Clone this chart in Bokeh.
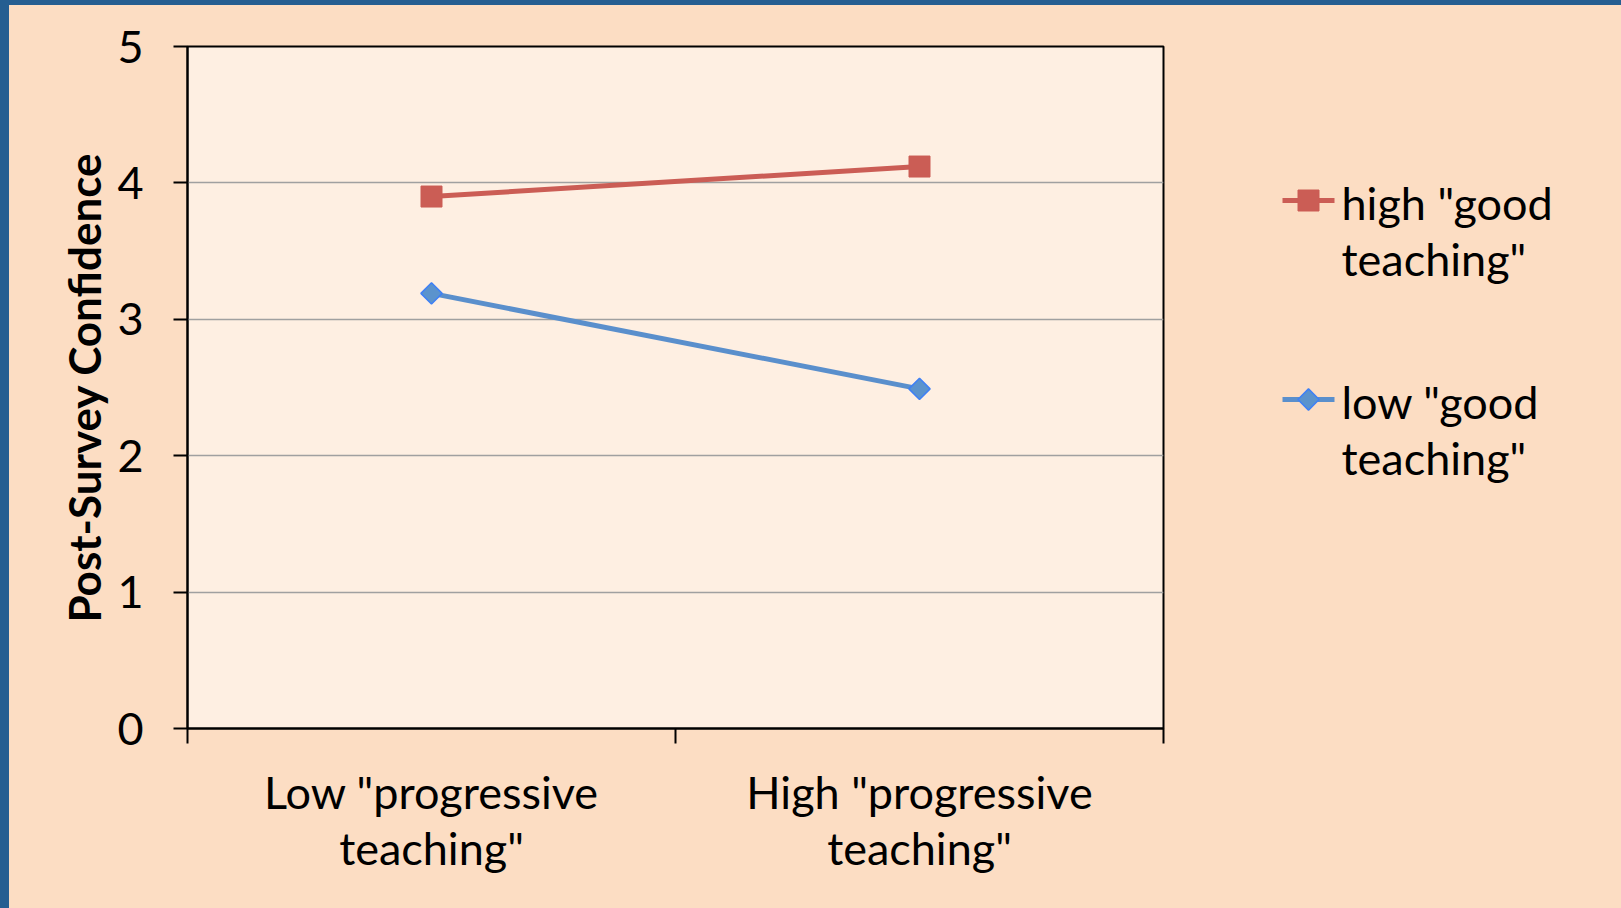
import math
from bokeh.plotting import figure
from bokeh.models import Range1d, FixedTicker, Spacer
from bokeh.layouts import column, row
from bokeh.core.properties import value
from bokeh.embed import file_html
from bokeh.resources import INLINE

categories = ['Low "progressive\nteaching"', 'High "progressive\nteaching"']
series_names = ['high "good\nteaching"', 'low "good\nteaching"']
high_good = [3.90, 4.12]
low_good = [3.19, 2.49]
y_ticks = [0, 1, 2, 3, 4, 5]
y_axis_title = "Post-Survey Confidence"

FONT = "Lato"
FS = "45px"
LH = 1.04
FRAME_BLUE = "#255E91"
OUTER_BG = "#FCDDC3"
PLOT_BG = "#FEEFE2"
RED = "#CB5D55"
BLUE_LINE = "#5A8FCC"
BLUE_FILL = "#5B93CD"
BLUE_EDGE = "#3F80F5"
BG_STYLE = {"background-color": OUTER_BG}

# layout (px): plot frame 976 x 682, starting 178 / 41 inside the figure
FIG_H = 903
BORDER_L, BORDER_T, BORDER_B, BORDER_R = 178, 41, 180, 6
FRAME_W = 976
FRAME_TOP, FRAME_BOTTOM = BORDER_T, FIG_H - BORDER_B

x_pos = [i + 0.5 for i in range(len(categories))]
x_bounds = [float(i) for i in range(len(categories) + 1)]

p = figure(width=BORDER_L + FRAME_W + BORDER_R, height=FIG_H,
           x_range=Range1d(0, len(categories)), y_range=Range1d(0, 5),
           output_backend="svg", toolbar_location=None,
           min_border_left=BORDER_L, min_border_right=BORDER_R,
           min_border_top=BORDER_T, min_border_bottom=BORDER_B,
           background_fill_color=PLOT_BG, border_fill_color=OUTER_BG,
           outline_line_color="black", outline_line_width=2, styles=BG_STYLE)

# lines & markers
p.line(x_pos, high_good, line_color=RED, line_width=5)
p.scatter(x_pos, high_good, marker="square", size=21,
          fill_color=RED, line_color=RED)
p.line(x_pos, low_good, line_color=BLUE_LINE, line_width=5)
p.scatter(x_pos, low_good, marker="square", angle=math.pi / 4, size=15,
          fill_color=BLUE_FILL, line_color=BLUE_EDGE, line_width=1.5)

# grid
p.xgrid.visible = False
p.ygrid.ticker = FixedTicker(ticks=y_ticks)
p.ygrid.grid_line_color = "#A0A0A0"
p.ygrid.grid_line_width = 1.5

# y axis
ya = p.yaxis[0]
ya.ticker = FixedTicker(ticks=y_ticks)
ya.minor_tick_line_color = None
ya.major_tick_in = 0
ya.major_tick_out = 14
ya.major_tick_line_color = "black"
ya.major_tick_line_width = 2
ya.axis_line_color = "black"
ya.axis_line_width = 2
ya.major_label_standoff = 30
ya.major_label_text_font = FONT
ya.major_label_text_font_size = FS
ya.major_label_text_color = "black"
ya.axis_label = y_axis_title
ya.axis_label_text_font = FONT
ya.axis_label_text_font_size = "44px"
ya.axis_label_text_font_style = "bold"
ya.axis_label_text_color = "black"
ya.axis_label_standoff = 4

# x axis
xa = p.xaxis[0]
xa.ticker = FixedTicker(ticks=x_pos, minor_ticks=x_bounds)
xa.major_tick_line_color = None
xa.major_tick_in = 0
xa.major_tick_out = 0
xa.minor_tick_in = 0
xa.minor_tick_out = 15
xa.minor_tick_line_color = "black"
xa.minor_tick_line_width = 2
xa.axis_line_color = "black"
xa.axis_line_width = 2
xa.major_label_overrides = {x: c for x, c in zip(x_pos, categories)}
xa.major_label_standoff = 21
xa.major_label_text_font = FONT
xa.major_label_text_font_size = FS
xa.major_label_text_color = "black"
xa.major_label_text_line_height = LH

# legend panel: a side figure whose frame is aligned with the plot frame,
# using pixel units (y grows downward) for the key layout
LW = 1612 - (BORDER_L + FRAME_W + BORDER_R)
lg = figure(width=LW, height=FIG_H, x_range=Range1d(0, LW),
            y_range=Range1d(FRAME_BOTTOM, FRAME_TOP),
            output_backend="svg", toolbar_location=None,
            x_axis_location=None, y_axis_location=None,
            min_border=0, min_border_top=BORDER_T, min_border_bottom=BORDER_B,
            background_fill_color=OUTER_BG, border_fill_color=OUTER_BG,
            outline_line_color=None, styles=BG_STYLE)
lg.grid.visible = False

KEY_X0, KEY_X1, TEXT_X = 113, 165, 172
KEY_ROWS = [195, 394]
TEXT_RAISE = 25
key_styles = [
    dict(line=RED, size=21, angle=0.0, fill=RED, edge=RED, lw=1),
    dict(line=BLUE_LINE, size=15, angle=math.pi / 4, fill=BLUE_FILL, edge=BLUE_EDGE, lw=1.5),
]
for name, ky, st in zip(series_names, KEY_ROWS, key_styles):
    lg.line([KEY_X0, KEY_X1], [ky, ky], line_color=st["line"], line_width=5)
    lg.scatter([(KEY_X0 + KEY_X1) / 2], [ky], marker="square", size=st["size"],
               angle=st["angle"], fill_color=st["fill"], line_color=st["edge"],
               line_width=st["lw"])
    lg.text([TEXT_X], [ky], text=[name], y_offset=-TEXT_RAISE,
            text_align="left", text_baseline="top",
            text_font=value(FONT), text_font_size=FS, text_color="black",
            text_line_height=LH)

top_strip = Spacer(width=1621, height=5, styles={"background-color": FRAME_BLUE})
left_strip = Spacer(width=9, height=FIG_H, styles={"background-color": FRAME_BLUE})
page = column(top_strip, row(left_strip, p, lg, spacing=0, styles=BG_STYLE), spacing=0)

open("out.html", "w").write(file_html(page, INLINE))
